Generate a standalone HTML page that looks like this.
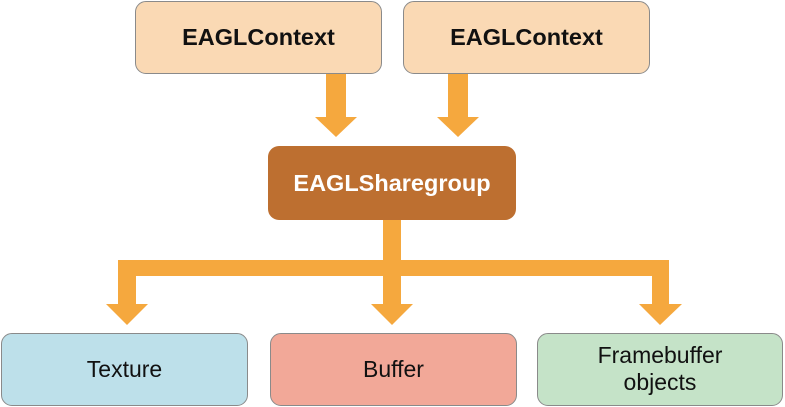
<!DOCTYPE html>
<html><head><style>
body{margin:0;width:785px;height:407px;background:#fff;overflow:hidden;position:relative;font-family:"Liberation Sans",Arial,sans-serif}
.b{position:absolute;box-sizing:border-box;border:1.5px solid #8a8a8a;border-radius:11px;display:flex;align-items:center;justify-content:center;text-align:center;font-size:23px;color:#111}
</style></head><body>
<svg width="785" height="407" style="position:absolute;left:0;top:0">
<g fill="#f5a83e">
<rect x="326" y="74" width="20" height="44"/><polygon points="315,117 357,117 336,137"/>
<rect x="448" y="74" width="20" height="44"/><polygon points="437,117 479,117 458,137"/>
<rect x="383" y="220" width="18" height="86"/>
<rect x="118" y="260" width="551" height="16"/>
<rect x="118" y="260" width="18" height="46"/><polygon points="106,304 148,304 127,325"/>
<rect x="383" y="260" width="18" height="46"/><polygon points="371,304 413,304 392,325"/>
<rect x="652" y="260" width="17" height="46"/><polygon points="639,304 682,304 660,325"/>
</g></svg>
<div class="b" style="left:135px;top:1px;width:247px;height:73px;background:#fad9b4;font-weight:bold;font-size:23.5px">EAGLContext</div>
<div class="b" style="left:403px;top:1px;width:247px;height:73px;background:#fad9b4;font-weight:bold;font-size:23.5px">EAGLContext</div>
<div class="b" style="left:268px;top:146px;width:248px;height:74px;background:#bd6f30;border:none;color:#fff;font-weight:bold;font-size:23.5px">EAGLSharegroup</div>
<div class="b" style="left:1px;top:333px;width:247px;height:73px;background:#bde0ea">Texture</div>
<div class="b" style="left:270px;top:333px;width:247px;height:73px;background:#f2a898">Buffer</div>
<div class="b" style="left:537px;top:333px;width:246px;height:73px;background:#c5e3c8;line-height:27px;align-items:flex-start;padding-top:8px">Framebuffer<br>objects</div>
</body></html>
